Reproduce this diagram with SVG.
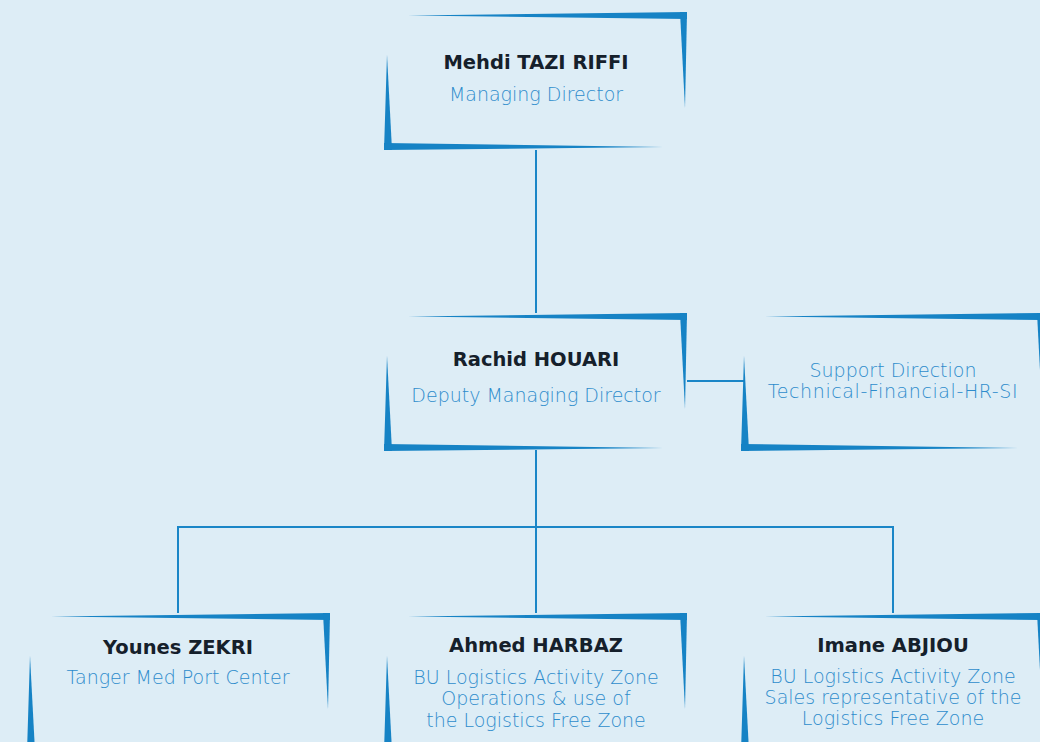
<svg xmlns="http://www.w3.org/2000/svg" xmlns:xlink="http://www.w3.org/1999/xlink" width="1040" height="742" viewBox="0 0 1040 742">
<style>
.bg{fill:#ddedf6}
.fr{fill:#1683c5}
.ln{stroke:#1a86c7;stroke-width:2;fill:none}
.nm{font-family:"DejaVu Sans","Noto Sans",sans-serif;font-weight:700;font-size:19.5px;fill:#15202b;text-anchor:middle}
.rl{font-family:"DejaVu Sans","Noto Sans",sans-serif;font-weight:200;font-size:19px;fill:#2e8ccc;text-anchor:middle}
</style>
<defs>
<g id="frame">
<path class="fr" d="M24,3.5 L303,0 L303,7 Z"/>
<path class="fr" d="M296,0 L303,0 L301,96 Z"/>
<path class="fr" d="M3,43 L0,138 L8,138 Z"/>
<path class="fr" d="M0,131 L0,138 L279,135 Z"/>
</g>
</defs>
<rect class="bg" x="0" y="0" width="1040" height="742"/>
<g id="connectors">
<path class="ln" d="M536,150 V313"/>
<path class="ln" d="M536,450 V613"/>
<path class="ln" d="M178,613 V527 H893 V613"/>
<path class="ln" d="M687,381 H745"/>
</g>
<g id="node-mehdi">
<use xlink:href="#frame" transform="translate(384,12)"/>
<text class="nm" x="536" y="69">Mehdi TAZI RIFFI</text>
<text class="rl" x="536" y="101">Managing Director</text>
</g>
<g id="node-rachid">
<use xlink:href="#frame" transform="translate(384,313)"/>
<text class="nm" x="536" y="366">Rachid HOUARI</text>
<text class="rl" x="536" y="402">Deputy Managing Director</text>
</g>
<g id="node-support">
<use xlink:href="#frame" transform="translate(741,313)"/>
<text class="rl" x="893" y="377">Support Direction</text>
<text class="rl" x="893" y="398" letter-spacing="0.6">Technical-Financial-HR-SI</text>
</g>
<g id="node-younes">
<use xlink:href="#frame" transform="translate(27,613)"/>
<text class="nm" x="178" y="654">Younes ZEKRI</text>
<text class="rl" x="178" y="684">Tanger Med Port Center</text>
</g>
<g id="node-ahmed">
<use xlink:href="#frame" transform="translate(384,613)"/>
<text class="nm" x="536" y="652">Ahmed HARBAZ</text>
<text class="rl" x="536" y="684">BU Logistics Activity Zone</text>
<text class="rl" x="536" y="705">Operations &amp; use of</text>
<text class="rl" x="536" y="727">the Logistics Free Zone</text>
</g>
<g id="node-imane">
<use xlink:href="#frame" transform="translate(741,613)"/>
<text class="nm" x="893" y="652">Imane ABJIOU</text>
<text class="rl" x="893" y="683">BU Logistics Activity Zone</text>
<text class="rl" x="893" y="704">Sales representative of the</text>
<text class="rl" x="893" y="725">Logistics Free Zone</text>
</g>
</svg>
